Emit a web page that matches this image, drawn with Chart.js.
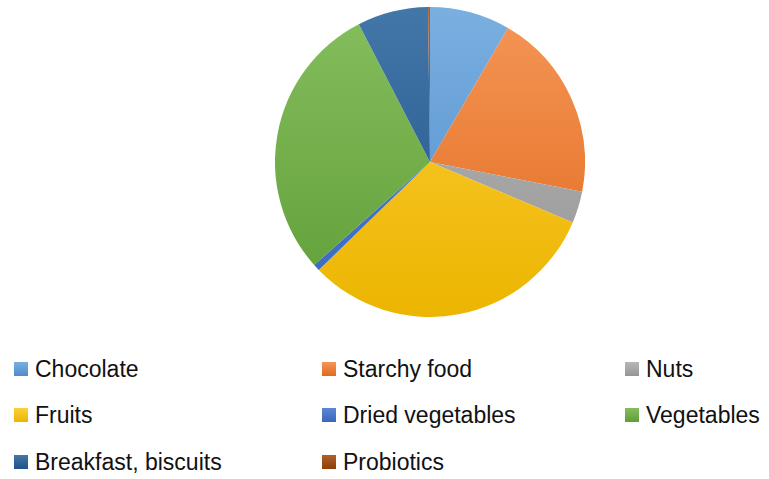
<!DOCTYPE html>
<html>
<head>
<meta charset="utf-8">
<script src="https://cdn.jsdelivr.net/npm/chart.js@4/dist/chart.umd.min.js"></script>
<style>
  body { margin: 0; background: #fff; width: 769px; height: 479px; overflow: hidden; position: relative; font-family: "Liberation Sans", Arial, sans-serif; }
  #pieBox { position: absolute; left: 275px; top: 7px; width: 310px; height: 310px; }
  #legend { position: absolute; left: 14px; top: 355px; width: 755px; }
  .item { position: absolute; display: flex; align-items: center; font-size: 23px; line-height: 28px; color: #111; white-space: nowrap; }
  .item span.sw { width: 14px; height: 14px; margin-right: 7px; display: inline-block; }
</style>
</head>
<body>
<div id="pieBox"><canvas id="pieCanvas"></canvas></div>
<div id="legend"></div>
<script>
var categories = ['Chocolate', 'Starchy food', 'Nuts', 'Fruits', 'Dried vegetables', 'Vegetables', 'Breakfast, biscuits', 'Probiotics'];
var shares = [8.4, 19.7, 3.3, 31.4, 0.7, 29.0, 7.4, 0.2];
var lightColors = ['#7aafe0', '#f59656', '#b8b8b8', '#ffcf3a', '#5b87d4', '#86be5e', '#4377a8', '#b0602a'];
var darkColors = ['#4f8ccb', '#e06a1e', '#959595', '#ebb500', '#3a66bd', '#5f9e37', '#1f5288', '#8e3e0a'];

function sliceFill(context) {
    var chart = context.chart;
    var area = chart.chartArea;
    if (!area) return darkColors[context.dataIndex];
    var g = chart.ctx.createLinearGradient(0, area.top, 0, area.bottom);
    g.addColorStop(0, lightColors[context.dataIndex]);
    g.addColorStop(1, darkColors[context.dataIndex]);
    return g;
}

var ctx = document.getElementById('pieCanvas').getContext('2d');
var pieChart = new Chart(ctx, {
    type: 'pie',
    data: {
        labels: categories,
        datasets: [{
            data: shares,
            backgroundColor: sliceFill,
            borderWidth: 0
        }]
    },
    options: {
        responsive: true,
        maintainAspectRatio: false,
        animation: false,
        layout: { padding: 0 },
        plugins: {
            legend: { display: false },
            tooltip: { enabled: false }
        }
    }
});

// legend laid out as 3 columns like the original
var colX = [0, 308, 611];
var rowY = [0, 46, 93];
var box = document.getElementById('legend');
categories.forEach(function (name, i) {
    var el = document.createElement('div');
    el.className = 'item';
    el.style.left = colX[i % 3] + 'px';
    el.style.top = rowY[Math.floor(i / 3)] + 'px';
    el.innerHTML = '<span class="sw" style="background:linear-gradient(' + lightColors[i] + ',' + darkColors[i] + ')"></span>' + name;
    box.appendChild(el);
});
</script>
</body>
</html>
